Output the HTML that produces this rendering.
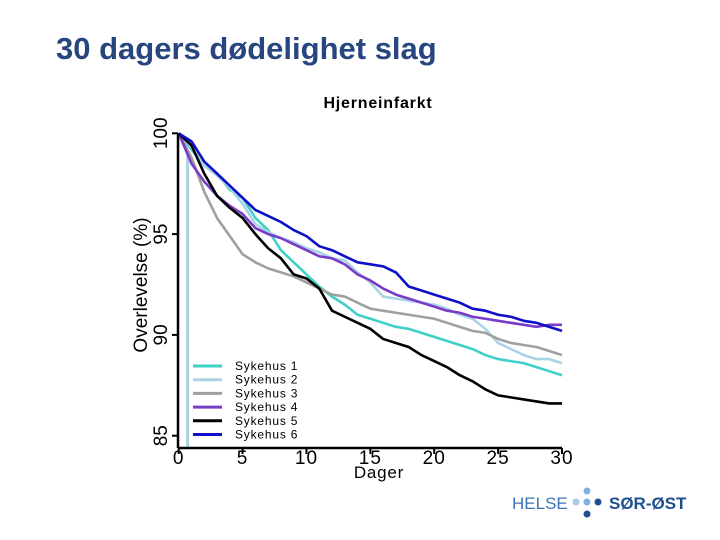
<!DOCTYPE html>
<html><head><meta charset="utf-8"><style>
body{margin:0;width:720px;height:540px;background:#fff;overflow:hidden;font-family:"Liberation Sans",sans-serif}
#title{position:absolute;left:56px;top:31px;font-size:31px;font-weight:bold;color:#27457f;white-space:nowrap}
</style></head><body>
<div id="title">30 dagers dødelighet slag</div>
<svg id="chart" width="720" height="540" style="position:absolute;left:0;top:0">
<text x="378" y="108" text-anchor="middle" font-size="16" font-weight="bold" letter-spacing="0.8" font-family="Liberation Sans">Hjerneinfarkt</text>
<g id="plot"></g>
<g id="axes"></g>
<g id="legend"></g>
<g>
<text x="512" y="509" font-size="17" fill="#3d74b4" font-family="Liberation Sans">HELSE</text>
<circle cx="576" cy="502" r="3.5" fill="#a9c9e8"/><circle cx="587" cy="502" r="3.5" fill="#7fb0de"/><circle cx="598" cy="502" r="3.5" fill="#1d4f91"/>
<circle cx="587" cy="491" r="3.5" fill="#7fb0de"/><circle cx="587" cy="514" r="3.5" fill="#1d4f91"/>
<text x="609" y="509" font-size="17" font-weight="bold" fill="#1d4f91" font-family="Liberation Sans">SØR-ØST</text>
</g>
</svg>
<script>
const days=[0,1,2,3,4,5,6,7,8,9,10,11,12,13,14,15,16,17,18,19,20,21,22,23,24,25,26,27,28,29,30];
const s1=[100,99.2,98.4,98,97.2,96.8,95.8,95.2,94.2,93.6,93,92.4,91.9,91.5,91,90.8,90.6,90.4,90.3,90.1,89.9,89.7,89.5,89.3,89,88.8,88.7,88.6,88.4,88.2,88];
const s2=[100,99.3,98.4,97.9,97.3,96.5,95.5,95.1,94.8,94.6,94.3,94.1,93.8,93.7,93.1,92.6,91.9,91.8,91.7,91.6,91.5,91.3,91,90.8,90.3,89.6,89.3,89,88.8,88.8,88.6];
const s3=[100,98.8,97.1,95.8,94.9,94,93.6,93.3,93.1,92.9,92.6,92.3,92,91.9,91.6,91.3,91.2,91.1,91,90.9,90.8,90.6,90.4,90.2,90.1,89.8,89.6,89.5,89.4,89.2,89];
const s4=[100,98.5,97.6,96.9,96.4,96,95.3,95,94.8,94.5,94.2,93.9,93.8,93.5,93,92.7,92.3,92,91.8,91.6,91.4,91.2,91.1,90.9,90.8,90.7,90.6,90.5,90.4,90.5,90.5];
const s5=[100,99.4,98,96.9,96.3,95.8,95,94.3,93.8,93,92.8,92.3,91.2,90.9,90.6,90.3,89.8,89.6,89.4,89,88.7,88.4,88,87.7,87.3,87,86.9,86.8,86.7,86.6,86.6];
const s6=[100,99.6,98.6,98,97.4,96.8,96.2,95.9,95.6,95.2,94.9,94.4,94.2,93.9,93.6,93.5,93.4,93.1,92.4,92.2,92,91.8,91.6,91.3,91.2,91,90.9,90.7,90.6,90.4,90.2];
const seriesNames=["Sykehus 1","Sykehus 2","Sykehus 3","Sykehus 4","Sykehus 5","Sykehus 6"];
const xTicks=[0,5,10,15,20,25,30];
const yTicks=[85,90,95,100];
const series=[s1,s2,s3,s4,s5,s6];
const colors=["#40d0c8","#a8d4e6","#a0a0a0","#7a3cc8","#000000","#1010c8"];
const X=d=>178.7+d*(562-178.7)/30;
const Y=v=>133.3+(100-v)*(435.7-133.3)/15;
const NS="http://www.w3.org/2000/svg";
function mk(t,a,p){const e=document.createElementNS(NS,t);for(const k in a)e.setAttribute(k,a[k]);p.appendChild(e);return e;}
const plot=document.getElementById('plot'),axes=document.getElementById('axes'),leg=document.getElementById('legend');
const vl=mk('line',{x1:X(0.7),x2:X(0.7),y1:Y(99),y2:448,stroke:"#a8d4e6","stroke-width":3},plot);


series.forEach((s,i)=>{
 let d="M"+X(days[0])+","+Y(s[0]);
 for(let j=1;j<days.length;j++){d+=" L"+X(days[j])+","+Y(s[j]);}
 const p=mk('path',{d:d,fill:"none",stroke:colors[i],"stroke-width":2.6,"stroke-linejoin":"round"},plot);
 
 
 const ly=366+i*13.7;
 const l=mk('line',{x1:193,x2:222,y1:ly,y2:ly,stroke:colors[i],"stroke-width":3},leg);
 
 
 const t=mk('text',{x:235,y:ly+4,"font-size":12,"letter-spacing":"0.8","font-family":"Liberation Sans"},leg);
 t.textContent=seriesNames[i];
 
 
});
const ya=mk('line',{x1:178,x2:178,y1:Y(100),y2:448,stroke:"#000","stroke-width":2.5},axes);


const xa=mk('line',{x1:178,x2:562,y1:448,y2:448,stroke:"#000","stroke-width":2.5},axes);


yTicks.forEach(v=>{
 mk('line',{x1:172,x2:178,y1:Y(v),y2:Y(v),stroke:"#000","stroke-width":2},axes);
 const t=mk('text',{x:0,y:0,"font-size":19,"text-anchor":"middle","font-family":"Liberation Sans",transform:`translate(167,${Y(v)}) rotate(-90)`},axes);
 t.textContent=v;
 
 
});
xTicks.forEach(v=>{
 mk('line',{x1:X(v),x2:X(v),y1:448,y2:454,stroke:"#000","stroke-width":2},axes);
 const t=mk('text',{x:X(v),y:464,"font-size":19,"text-anchor":"middle","letter-spacing":"1","font-family":"Liberation Sans"},axes);
 t.textContent=v;
 
 
});
const xt=mk('text',{x:379,y:478,"font-size":17,"text-anchor":"middle","letter-spacing":"0.8","font-family":"Liberation Sans"},axes);
xt.textContent="Dager";


const yt=mk('text',{x:0,y:0,"font-size":19,"text-anchor":"middle","font-family":"Liberation Sans",transform:"translate(147,285) rotate(-90)"},axes);
yt.textContent="Overlevelse (%)";


</script>
</body></html>
